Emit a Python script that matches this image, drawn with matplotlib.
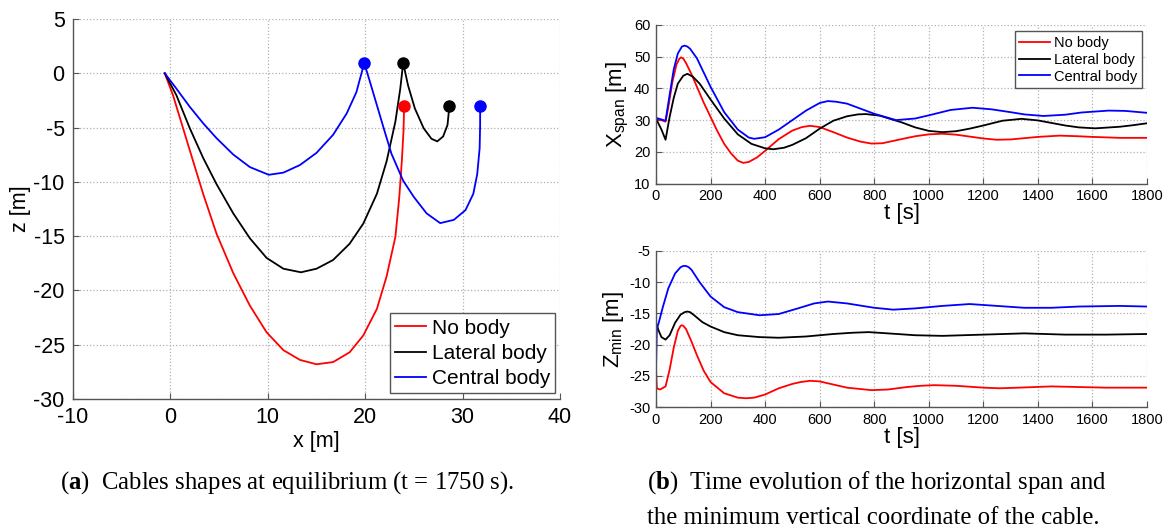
import matplotlib as mpl
mpl.use('Agg')
import matplotlib.pyplot as plt

# --- data --------------------------------------------------------------
# (a) cable shapes at equilibrium
red_x = [-0.58, 0.27, 1.3, 2.33, 3.36, 4.73, 6.45, 8.16, 9.87, 11.6, 13.3, 15.0,
         16.7, 18.4, 19.8, 21.2, 22.2, 23.1, 23.5, 23.76, 23.93, 24.0]
red_z = [0, -2.03, -5.06, -8.09, -11.1, -14.76, -18.4, -21.4, -23.85, -25.5, -26.4,
         -26.8, -26.6, -25.7, -24.15, -21.7, -18.7, -15.06, -11.4, -8.1, -5.36, -3.0]
blk_x = [-0.58, 0.62, 1.99, 3.36, 4.73, 6.45, 8.16, 9.87, 11.6, 13.4, 15.0, 16.7,
         18.4, 19.8, 21.2, 22.2, 23.1, 23.6, 23.9, 24.4, 25.1, 26.0, 26.8, 27.4,
         28.0, 28.45, 28.6, 28.65]
blk_z = [0, -2.03, -5.06, -7.79, -10.2, -12.9, -15.2, -17.0, -18.0, -18.33, -18.0,
         -17.2, -15.7, -13.85, -11.1, -8.1, -4.45, -1.42, 0.95, -1.12, -3.24, -5.06,
         -6.03, -6.27, -5.82, -4.76, -3.4, -3.0]
blu_x = [-0.58, 0.62, 1.99, 3.36, 4.73, 6.45, 8.16, 10.1, 11.6, 13.3, 15.0, 16.7,
         18.1, 19.1, 19.9, 20.5, 21.2, 22.0, 22.7, 23.9, 25.0, 26.3, 27.7, 29.1,
         30.3, 31.1, 31.5, 31.75, 31.8, 31.8]
blu_z = [0, -1.42, -3.09, -4.6, -5.97, -7.48, -8.64, -9.35, -9.15, -8.45, -7.33,
         -5.67, -3.7, -1.73, 0.95, -0.82, -2.94, -5.36, -7.42, -9.9, -11.4, -12.9,
         -13.8, -13.5, -12.6, -11.1, -9.3, -6.9, -4.76, -3.0]
# end / attachment points (markers)
red_mx, red_mz = [24.0], [-3.0]
blk_mx, blk_mz = [23.9, 28.65], [0.95, -3.0]
blu_mx, blu_mz = [19.9, 31.8], [0.95, -3.0]

# (b) horizontal span vs time
xs_red_t = [0, 20, 35, 45, 60, 75, 85, 92, 100, 110, 130, 150, 175, 200, 225, 250,
            275, 300, 320, 340, 370, 400, 450, 500, 535, 565, 600, 650, 700, 750,
            790, 830, 900, 950, 1000, 1050, 1100, 1150, 1200, 1250, 1300, 1350,
            1400, 1480, 1550, 1600, 1700, 1800]
xs_red = [30.5, 30.0, 29.5, 34, 42, 47.5, 49.3, 49.8, 49.4, 48, 44.5, 40.5, 35.5, 31,
          26.5, 22.5, 19.5, 17.2, 16.5, 16.8, 18.2, 20.3, 24, 26.7, 27.8, 28.2, 27.8,
          26.2, 24.5, 23.2, 22.6, 22.7, 24, 24.9, 25.5, 25.7, 25.4, 24.8, 24.2, 23.8,
          23.9, 24.3, 24.7, 25.1, 24.9, 24.7, 24.4, 24.4]
xs_blk_t = [0, 20, 35, 50, 65, 80, 100, 115, 135, 160, 200, 250, 300, 350, 400, 430,
            470, 500, 550, 600, 650, 700, 740, 770, 820, 900, 950, 1000, 1050, 1100,
            1150, 1200, 1270, 1340, 1400, 1450, 1500, 1550, 1610, 1700, 1750, 1800]
xs_blk = [30.5, 27, 23.8, 31, 37, 41.5, 44, 44.6, 43.7, 41.5, 36.5, 30.5, 25.5, 22.5,
          21.1, 20.8, 21.3, 22.2, 24.3, 27.3, 29.8, 31.2, 31.8, 31.9, 31.4, 29.3,
          27.7, 26.6, 26.2, 26.5, 27.3, 28.3, 29.8, 30.4, 29.9, 29.1, 28.3, 27.7,
          27.4, 27.9, 28.4, 29.0]
xs_blu_t = [0, 20, 35, 50, 65, 80, 95, 105, 115, 125, 150, 175, 200, 250, 300, 340,
            360, 400, 450, 500, 550, 600, 630, 660, 700, 750, 800, 880, 950, 1000,
            1080, 1160, 1230, 1300, 1350, 1420, 1500, 1560, 1660, 1720, 1800]
xs_blu = [30.7, 30.2, 29.8, 38, 46, 51, 53.2, 53.5, 53.2, 52.5, 49.5, 45, 40.5, 32.5,
          27, 24.5, 24.1, 24.6, 27, 30, 33, 35.4, 36, 35.8, 35.2, 33.6, 32, 30, 30.5,
          31.5, 33.2, 33.9, 33.4, 32.5, 31.8, 31.3, 31.7, 32.4, 33, 32.9, 32.3]

# minimum vertical coordinate vs time
zm_red_t = [0, 3, 15, 35, 50, 65, 80, 90, 95, 100, 110, 130, 150, 175, 200, 250,
            300, 330, 360, 400, 450, 500, 530, 565, 600, 650, 700, 790, 850, 920,
            970, 1020, 1100, 1200, 1260, 1330, 1450, 1550, 1650, 1800]
zm_red = [-24, -27, -27.2, -26.7, -24, -20.5, -17.8, -17.0, -16.9, -17.0, -17.5,
          -19.5, -21.7, -24.2, -26, -27.8, -28.5, -28.6, -28.5, -28, -27, -26.3,
          -26.0, -25.8, -25.9, -26.4, -26.9, -27.3, -27.2, -26.8, -26.6, -26.5,
          -26.6, -26.9, -27.0, -26.9, -26.7, -26.8, -26.9, -26.9]
zm_blk_t = [0, 10, 20, 35, 50, 70, 90, 105, 115, 125, 140, 170, 200, 250, 300, 380,
            450, 550, 650, 720, 780, 850, 950, 1050, 1200, 1350, 1500, 1650, 1800]
zm_blk = [-16.5, -17.8, -18.8, -19.2, -18.5, -16.5, -15.2, -14.8, -14.7, -14.8,
          -15.3, -16.4, -17.1, -18, -18.5, -18.8, -18.9, -18.7, -18.3, -18.1, -18.0,
          -18.2, -18.5, -18.6, -18.4, -18.2, -18.4, -18.4, -18.3]
zm_blu_t = [0, 3, 10, 25, 45, 70, 90, 100, 110, 120, 130, 160, 200, 250, 300, 380,
            450, 520, 580, 630, 700, 800, 870, 950, 1050, 1150, 1250, 1350, 1450,
            1550, 1700, 1800]
zm_blu = [-24, -17.5, -16.5, -14, -11, -8.6, -7.6, -7.4, -7.4, -7.6, -8, -10, -12.3,
          -14, -14.8, -15.3, -15.1, -14.2, -13.4, -13.1, -13.4, -14.1, -14.4, -14.2,
          -13.8, -13.5, -13.8, -14.1, -14.1, -13.9, -13.8, -13.9]

labels = ['No body', 'Lateral body', 'Central body']
colors = ['#ff0000', '#000000', '#0000ff']

# --- style ---------------------------------------------------------------
plt.rcParams['font.family'] = ['Liberation Sans', 'DejaVu Sans']
plt.rcParams['axes.unicode_minus'] = False
plt.rcParams['mathtext.fontset'] = 'custom'
plt.rcParams['mathtext.rm'] = 'Liberation Sans'
plt.rcParams['mathtext.it'] = 'Liberation Sans'
plt.rcParams['mathtext.bf'] = 'Liberation Serif:bold'

W, H = 1171, 530
fig = plt.figure(figsize=(W / 100, H / 100), dpi=100)


def px_axes(l, r, t, b):
    return fig.add_axes([l / W, 1 - b / H, (r - l) / W, (b - t) / H])


def matlab_look(ax, fs, pad):
    for s in ['top', 'right']:
        ax.spines[s].set_visible(False)
    for s in ['left', 'bottom']:
        ax.spines[s].set_color('#555555')
        ax.spines[s].set_linewidth(1.0)
    ax.grid(True, ls=':', color='#b0b0b0', lw=0.9)
    ax.tick_params(direction='in', length=4, color='#555555', labelsize=fs, pad=pad)
    ax.set_axisbelow(True)


# (a) left panel
ax1 = px_axes(73, 560, 19, 399)
lw = 1.3
ax1.plot(red_x, red_z, color=colors[0], lw=lw, label=labels[0])
ax1.plot(blk_x, blk_z, color=colors[1], lw=lw, label=labels[1])
ax1.plot(blu_x, blu_z, color=colors[2], lw=lw, label=labels[2])
ax1.plot(red_mx, red_mz, 'o', color=colors[0], ms=8)
ax1.plot(blk_mx, blk_mz, 'o', color=colors[1], ms=8)
ax1.plot(blu_mx, blu_mz, 'o', color=colors[2], ms=8)
ax1.set_xlim(-10, 40)
ax1.set_ylim(-30, 5)
ax1.set_xticks(range(-10, 41, 10))
ax1.set_yticks(range(-30, 6, 5))
matlab_look(ax1, 15.5, 6)
ax1.set_xlabel('x [m]', fontsize=15.5, labelpad=2)
ax1.set_ylabel('z [m]', fontsize=15.5, labelpad=2)
leg = ax1.legend(loc='lower right', bbox_to_anchor=(0.99, 0.015), borderaxespad=0,
                 fontsize=15, fancybox=False, framealpha=1, edgecolor='#555555',
                 handlelength=1.5, handletextpad=0.25, borderpad=0.25, labelspacing=0.3)
leg.get_frame().set_linewidth(1.0)

# (b) top right: horizontal span
ax2 = px_axes(656, 1147, 25, 183.5)
ax2.plot(xs_red_t, xs_red, color=colors[0], lw=lw, label=labels[0])
ax2.plot(xs_blk_t, xs_blk, color=colors[1], lw=lw, label=labels[1])
ax2.plot(xs_blu_t, xs_blu, color=colors[2], lw=lw, label=labels[2])
ax2.set_xlim(0, 1800)
ax2.set_ylim(10, 60)
ax2.set_xticks(range(0, 1801, 200))
ax2.set_yticks(range(10, 61, 10))
matlab_look(ax2, 10.5, 4)
ax2.set_xlabel('t [s]', fontsize=16, labelpad=0)
ax2.set_ylabel(r'X$_{\mathregular{span}}$ [m]', fontsize=16, labelpad=2)
leg2 = ax2.legend(loc='upper right', bbox_to_anchor=(0.99, 0.96), borderaxespad=0,
                  fontsize=10.5, fancybox=False, framealpha=1, edgecolor='#555555',
                  handlelength=2.1, handletextpad=0.3, borderpad=0.3, labelspacing=0.2)
leg2.get_frame().set_linewidth(1.0)

# (b) bottom right: minimum vertical coordinate
ax3 = px_axes(656, 1147, 251, 407)
ax3.plot(zm_red_t, zm_red, color=colors[0], lw=lw)
ax3.plot(zm_blk_t, zm_blk, color=colors[1], lw=lw)
ax3.plot(zm_blu_t, zm_blu, color=colors[2], lw=lw)
ax3.set_xlim(0, 1800)
ax3.set_ylim(-30, -5)
ax3.set_xticks(range(0, 1801, 200))
ax3.set_yticks(range(-30, -4, 5))
matlab_look(ax3, 10.5, 4)
ax3.set_xlabel('t [s]', fontsize=16, labelpad=0)
ax3.set_ylabel(r'Z$_{\mathregular{min}}$ [m]', fontsize=16, labelpad=2)

# captions
cap = dict(fontsize=17.8, family=['Liberation Serif', 'DejaVu Serif'], va='center',
           ha='left')
fig.text(60 / W, 1 - 483 / H, r'($\mathbf{a}$)  Cables shapes at equilibrium (t = 1750 s).',
         **cap)
fig.text(647 / W, 1 - 483 / H, r'($\mathbf{b}$)  Time evolution of the horizontal span and',
         **cap)
fig.text(647 / W, 1 - 518 / H, 'the minimum vertical coordinate of the cable.', **cap)

fig.savefig('out.png', dpi=100)
